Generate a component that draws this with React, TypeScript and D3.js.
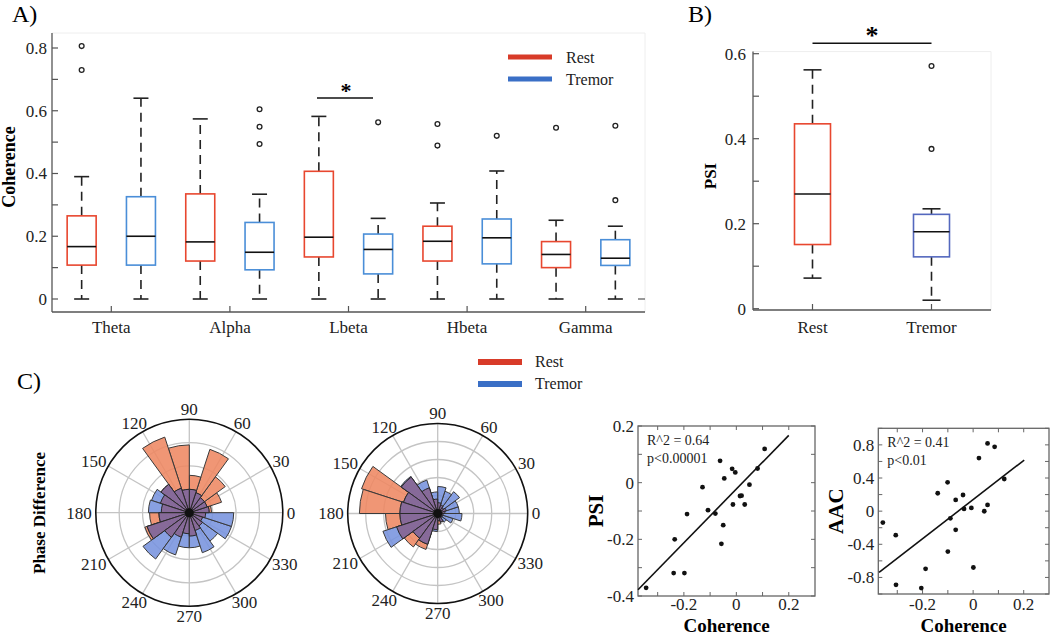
import React from "react";
import * as d3 from "d3";

// ---------- Panel A data ----------
const bands = ["Theta", "Alpha", "Lbeta", "Hbeta", "Gamma"];
const restLow = [0, 0, 0, 0, 0];
const restQ1 = [0.108, 0.121, 0.134, 0.121, 0.1];
const restMed = [0.167, 0.182, 0.197, 0.184, 0.142];
const restQ3 = [0.265, 0.335, 0.407, 0.232, 0.183];
const restHigh = [0.39, 0.574, 0.582, 0.306, 0.251];
const restOut = [[0.806, 0.73], [], [], [0.558, 0.489], [0.546]];
const tremLow = [0, 0, 0, 0, 0];
const tremQ1 = [0.108, 0.093, 0.08, 0.112, 0.107];
const tremMed = [0.2, 0.149, 0.158, 0.195, 0.13];
const tremQ3 = [0.326, 0.244, 0.207, 0.255, 0.189];
const tremHigh = [0.64, 0.334, 0.257, 0.408, 0.232];
const tremOut = [[], [0.605, 0.549, 0.494], [0.563], [0.52], [0.552, 0.315]];
const aTicks = [0, 0.1, 0.2, 0.3, 0.4, 0.5, 0.6, 0.7, 0.8];
const aLabels = [0, 0.2, 0.4, 0.6, 0.8];

// ---------- Panel B data ----------
const psiGroups = ["Rest", "Tremor"];
const psiLow = [0.072, 0.02];
const psiQ1 = [0.151, 0.122];
const psiMed = [0.27, 0.181];
const psiQ3 = [0.435, 0.222];
const psiHigh = [0.562, 0.235];
const psiOut = [[], [0.571, 0.376]];
const bTicks = [0, 0.1, 0.2, 0.3, 0.4, 0.5, 0.6];
const bLabels = [0, 0.2, 0.4, 0.6];

// ---------- Panel C rose data (18° bins from 0°) ----------
const binStarts = d3.range(0, 360, 18);
const angleTicks = [0, 30, 60, 90, 120, 150, 180, 210, 240, 270, 300, 330];
const rose1Rest = [0.95, 1.45, 1.9, 2.85, 1.6, 2.9, 3.4, 1.5, 1.3, 1.2, 1.7, 2.0, 1.3, 1.1, 0.9, 1.0, 0.8, 0.7, 0.6, 0.7];
const rose1Trem = [0.85, 0.8, 0.8, 0.9, 1.0, 1.0, 1.1, 1.5, 1.7, 1.75, 1.3, 1.9, 2.45, 1.9, 1.5, 1.5, 1.8, 1.5, 1.9, 1.9];
const rose2Rest = [0.4, 0.5, 0.4, 0.5, 0.6, 0.8, 1.5, 2.5, 4.45, 4.35, 2.9, 2.4, 2.3, 2.1, 0.9, 0.6, 0.5, 0.3, 0.3, 0.3];
const rose2Trem = [1.2, 1.2, 1.5, 1.3, 1.5, 1.2, 1.95, 2.55, 2.0, 2.1, 2.1, 3.2, 1.7, 1.8, 1.0, 0.4, 0.5, 0.6, 0.9, 1.35];

// ---------- Scatter data ----------
const sc1Coh = [0.108, -0.062, -0.016, -0.004, 0.081, -0.046, -0.129, 0.05, 0.014, 0.02, -0.188, -0.108, -0.08, -0.013, 0.032, -0.05, -0.057, -0.235, -0.239, -0.198, -0.344];
const sc1Psi = [0.119, 0.077, 0.049, 0.036, 0.05, 0.015, -0.016, -0.007, -0.047, -0.046, -0.111, -0.097, -0.109, -0.077, -0.077, -0.15, -0.216, -0.2, -0.319, -0.319, -0.371];
const sc2Coh = [0.057, 0.085, 0.023, 0.123, -0.101, -0.14, -0.04, -0.069, -0.036, -0.007, 0.057, 0.044, -0.09, -0.357, -0.069, -0.306, -0.1, -0.188, 0.001, -0.305, -0.205];
const sc2Aac = [0.818, 0.777, 0.641, 0.388, 0.348, 0.216, 0.195, 0.135, 0.027, 0.039, 0.075, -0.001, -0.086, -0.138, -0.226, -0.29, -0.488, -0.696, -0.68, -0.889, -0.929];
const fit1X = [-0.375, 0.2];
const fit1Y = [-0.378, 0.167];
const fit2X = [-0.372, 0.202];
const fit2Y = [-0.74, 0.617];
const scXTicks = [-0.3, -0.2, -0.1, 0, 0.1, 0.2];
const scXLabels = [-0.2, 0, 0.2];
const sc1YTicks = [-0.4, -0.3, -0.2, -0.1, 0, 0.1, 0.2];
const sc1YLabels = [-0.4, -0.2, 0, 0.2];
const sc2YTicks = [-1, -0.8, -0.6, -0.4, -0.2, 0, 0.2, 0.4, 0.6, 0.8, 1];
const sc2YLabels = [-0.8, -0.4, 0, 0.4, 0.8];

const SERIF = "'Liberation Serif', 'Times New Roman', serif";
const REST_BOX = "#e8472f";
const TREM_BOX = "#4a8ed8";
const TREM_BOX_B = "#5468be";
const LEG_RED = "#d83b29";
const LEG_BLUE = "#3a6fc6";
const AXIS = "#555";
const ROSE_REST = "#ee8762";
const ROSE_TREM = "#7893de";
const ROSE_BOTH = "#876694";

const fmt = (v: number) => (v === 0 ? "0" : (v < 0 ? "-" : "") + String(Math.abs(v)));

function Box({ cx, lo, q1, med, q3, hi, outs, y, color, w, capW }: any) {
  return (
    <g>
      <line x1={cx} x2={cx} y1={y(q3)} y2={y(hi)} stroke="#222" strokeWidth={1.6} strokeDasharray="9,6" />
      <line x1={cx} x2={cx} y1={y(q1)} y2={y(lo)} stroke="#222" strokeWidth={1.6} strokeDasharray="9,6" />
      <line x1={cx - capW / 2} x2={cx + capW / 2} y1={y(hi)} y2={y(hi)} stroke="#222" strokeWidth={1.6} />
      <line x1={cx - capW / 2} x2={cx + capW / 2} y1={y(lo)} y2={y(lo)} stroke="#222" strokeWidth={1.6} />
      <rect x={cx - w / 2} y={y(q3)} width={w} height={y(q1) - y(q3)} fill="none" stroke={color} strokeWidth={1.6} />
      <line x1={cx - w / 2} x2={cx + w / 2} y1={y(med)} y2={y(med)} stroke="#111" strokeWidth={1.6} />
      {outs.map((o: number, i: number) => (
        <circle key={i} cx={cx} cy={y(o)} r={2.4} fill="none" stroke="#222" strokeWidth={1.3} />
      ))}
    </g>
  );
}

function PanelA() {
  const x = d3.scaleLinear().domain([0.5, 10.5]).range([52, 645]);
  const y = d3.scaleLinear().domain([0, 0.8]).range([299, 48]);
  const top = 33, bottom = 312;
  return (
    <g>
      <text x={12} y={22} fontSize={24} fontFamily={SERIF}>A)</text>
      <line x1={x(0.5)} x2={x(10.5)} y1={top} y2={top} stroke="#eee" />
      <line x1={x(10.5)} x2={x(10.5)} y1={top} y2={bottom} stroke="#eee" />
      <line x1={x(10.5) - 7} x2={x(10.5)} y1={y(0)} y2={y(0)} stroke={AXIS} strokeWidth={1.2} />
      <line x1={x(0.5)} x2={x(0.5)} y1={top} y2={bottom} stroke={AXIS} strokeWidth={1.3} />
      <line x1={x(0.5)} x2={x(10.5)} y1={bottom} y2={bottom} stroke={AXIS} strokeWidth={1.3} />
      {aTicks.map((t) => (
        <line key={t} x1={x(0.5)} x2={x(0.5) + 6} y1={y(t)} y2={y(t)} stroke={AXIS} strokeWidth={1.2} />
      ))}
      {aLabels.map((t) => (
        <text key={t} x={x(0.5) - 5} y={y(t)} dy="0.35em" textAnchor="end" fontSize={17} fontFamily={SERIF} fill="#222">{fmt(t)}</text>
      ))}
      {bands.map((b, i) => (
        <g key={b}>
          <line x1={x(2 * i + 1.5)} x2={x(2 * i + 1.5)} y1={bottom} y2={bottom - 6} stroke={AXIS} strokeWidth={1.2} />
          <text x={x(2 * i + 1.5)} y={333} textAnchor="middle" fontSize={17} fontFamily={SERIF} fill="#222">{b}</text>
          <Box cx={x(2 * i + 1)} lo={restLow[i]} q1={restQ1[i]} med={restMed[i]} q3={restQ3[i]} hi={restHigh[i]} outs={restOut[i]} y={y} color={REST_BOX} w={29} capW={15} />
          <Box cx={x(2 * i + 2)} lo={tremLow[i]} q1={tremQ1[i]} med={tremMed[i]} q3={tremQ3[i]} hi={tremHigh[i]} outs={tremOut[i]} y={y} color={TREM_BOX} w={29} capW={15} />
        </g>
      ))}
      <text transform={`translate(15,167) rotate(-90)`} textAnchor="middle" fontSize={18} fontWeight="bold" fontFamily={SERIF}>Coherence</text>
      <line x1={317} x2={373} y1={98} y2={98} stroke="#111" strokeWidth={1.6} />
      <text x={346} y={98} textAnchor="middle" fontSize={22} fontWeight="bold" fontFamily={SERIF}>*</text>
      <line x1={508} x2={552} y1={57} y2={57} stroke={LEG_RED} strokeWidth={5} />
      <line x1={508} x2={552} y1={79} y2={79} stroke={LEG_BLUE} strokeWidth={5} />
      <text x={566} y={63} fontSize={16} fontFamily={SERIF} fill="#222">Rest</text>
      <text x={566} y={85} fontSize={16} fontFamily={SERIF} fill="#222">Tremor</text>
    </g>
  );
}

function PanelB() {
  const x = d3.scaleLinear().domain([0.5, 2.5]).range([753, 991]);
  const y = d3.scaleLinear().domain([0, 0.6]).range([308.7, 53.7]);
  const top = y(0.605), bottom = 310;
  return (
    <g>
      <text x={688} y={22} fontSize={24} fontFamily={SERIF}>B)</text>
      <line x1={x(0.5)} x2={x(2.5)} y1={top} y2={top} stroke="#eee" />
      <line x1={x(2.5)} x2={x(2.5)} y1={top} y2={bottom} stroke="#eee" />
      <line x1={x(0.5)} x2={x(0.5)} y1={top} y2={bottom} stroke={AXIS} strokeWidth={1.3} />
      <line x1={x(0.5)} x2={x(2.5)} y1={bottom} y2={bottom} stroke={AXIS} strokeWidth={1.3} />
      {bTicks.map((t) => (
        <line key={t} x1={x(0.5)} x2={x(0.5) + 6} y1={y(t)} y2={y(t)} stroke={AXIS} strokeWidth={1.2} />
      ))}
      {bLabels.map((t) => (
        <text key={t} x={x(0.5) - 7} y={y(t)} dy="0.35em" textAnchor="end" fontSize={17} fontFamily={SERIF} fill="#222">{fmt(t)}</text>
      ))}
      {psiGroups.map((g, i) => (
        <g key={g}>
          <line x1={x(i + 1)} x2={x(i + 1)} y1={bottom} y2={bottom - 6} stroke={AXIS} strokeWidth={1.2} />
          <text x={x(i + 1)} y={333} textAnchor="middle" fontSize={17} fontFamily={SERIF} fill="#222">{g}</text>
          <Box cx={x(i + 1)} lo={psiLow[i]} q1={psiQ1[i]} med={psiMed[i]} q3={psiQ3[i]} hi={psiHigh[i]} outs={psiOut[i]} y={y} color={i === 0 ? REST_BOX : TREM_BOX_B} w={36} capW={18} />
        </g>
      ))}
      <text transform={`translate(716,176) rotate(-90)`} textAnchor="middle" fontSize={17} fontWeight="bold" fontFamily={SERIF}>PSI</text>
      <line x1={x(1)} x2={x(2)} y1={43.3} y2={43.3} stroke="#111" strokeWidth={1.6} />
      <text x={(x(1) + x(2)) / 2} y={44} textAnchor="middle" fontSize={26} fontWeight="bold" fontFamily={SERIF}>*</text>
    </g>
  );
}

function Rose({ cx, cy, R, maxV, rest, trem }: any) {
  const r = d3.scaleLinear().domain([0, maxV]).range([0, R]);
  const arc = d3.arc();
  const rad = (deg: number) => (deg * Math.PI) / 180;
  const toD3 = (deg: number) => Math.PI / 2 - rad(deg);
  const rings = d3.range(1, maxV);
  const bar = (v: number, i: number) =>
    arc({ innerRadius: 0, outerRadius: r(v), startAngle: toD3(binStarts[i] + 18), endAngle: toD3(binStarts[i]) } as any) as string;
  return (
    <g>
      {rings.map((k) => (
        <circle key={k} cx={cx} cy={cy} r={r(k)} fill="none" stroke="#c4c4c4" strokeWidth={1.3} />
      ))}
      {angleTicks.map((a) => (
        <line key={a} x1={cx} y1={cy} x2={cx + R * Math.cos(rad(a))} y2={cy - R * Math.sin(rad(a))} stroke="#c4c4c4" strokeWidth={1.3} />
      ))}
      <g transform={`translate(${cx},${cy})`}>
        {rest.map((v: number, i: number) => (
          <path key={"r" + i} d={bar(v, i)} fill={ROSE_REST} fillOpacity={0.88} stroke="#3a3a3a" strokeWidth={1} />
        ))}
        {trem.map((v: number, i: number) => (
          <path key={"t" + i} d={bar(v, i)} fill={ROSE_TREM} fillOpacity={0.88} stroke="#3a3a3a" strokeWidth={1} />
        ))}
        {rest.map((v: number, i: number) => (
          <path key={"b" + i} d={bar(Math.min(v, trem[i]), i)} fill={ROSE_BOTH} fillOpacity={0.92} stroke="#2a2a2a" strokeWidth={1} />
        ))}
        <circle r={4.5} fill="#111" />
      </g>
      <circle cx={cx} cy={cy} r={R} fill="none" stroke="#111" strokeWidth={1.6} />
      {angleTicks.map((a) => {
        const c = Math.cos(rad(a)), s = Math.sin(rad(a));
        const w = String(a).length * 0.5 * 17;
        const px = cx + (R + 4) * c + (w / 2) * c;
        const py = cy - (R + 4) * s - 6 * s;
        return (
          <text key={a} x={px} y={py} dy="0.35em" textAnchor="middle" fontSize={17} fontFamily={SERIF} fill="#222">{a}</text>
        );
      })}
    </g>
  );
}

function Scatter({ left, right, top, bottom, xDom, yDom, yTicks, yLabels, xs, ys, fx, fy, r2, p, ylab }: any) {
  const x = d3.scaleLinear().domain(xDom).range([left, right]);
  const y = d3.scaleLinear().domain(yDom).range([bottom, top]);
  const line = d3.line<number>().x((d) => x(d)).y((_, i) => y(fy[i]));
  return (
    <g>
      <rect x={left} y={top} width={right - left} height={bottom - top} fill="none" stroke="#666" strokeWidth={1.3} />
      {scXTicks.map((t) => (
        <g key={t}>
          <line x1={x(t)} x2={x(t)} y1={bottom} y2={bottom - 4} stroke="#666" />
          <line x1={x(t)} x2={x(t)} y1={top} y2={top + 4} stroke="#666" />
        </g>
      ))}
      {yTicks.map((t: number) => (
        <g key={t}>
          <line x1={left} x2={left + 4} y1={y(t)} y2={y(t)} stroke="#666" />
          <line x1={right} x2={right - 4} y1={y(t)} y2={y(t)} stroke="#666" />
        </g>
      ))}
      {scXLabels.map((t) => (
        <text key={t} x={x(t)} y={610} textAnchor="middle" fontSize={17} fontFamily={SERIF} fill="#222">{fmt(t)}</text>
      ))}
      {yLabels.map((t: number) => (
        <text key={t} x={left - 4} y={y(t)} dy="0.35em" textAnchor="end" fontSize={17} fontFamily={SERIF} fill="#222">{fmt(t)}</text>
      ))}
      <path d={line(fx) as string} fill="none" stroke="#111" strokeWidth={1.6} />
      {xs.map((v: number, i: number) => (
        <circle key={i} cx={x(v)} cy={y(ys[i])} r={2.4} fill="#111" />
      ))}
      <text x={left + 9} y={top + 19} fontSize={14} fontFamily={SERIF} fill="#222">{r2}</text>
      <text x={left + 9} y={top + 37} fontSize={14} fontFamily={SERIF} fill="#222">{p}</text>
      <text transform={`translate(${left - 35},${(top + bottom) / 2}) rotate(-90)`} textAnchor="middle" fontSize={21} fontWeight="bold" fontFamily={SERIF}>{ylab}</text>
      <text x={(left + right) / 2} y={632} textAnchor="middle" fontSize={19} fontWeight="bold" fontFamily={SERIF}>Coherence</text>
    </g>
  );
}

function PanelC() {
  return (
    <g>
      <text x={17} y={389} fontSize={24} fontFamily={SERIF}>C)</text>
      <line x1={478} x2={522} y1={362} y2={362} stroke={LEG_RED} strokeWidth={6} />
      <line x1={478} x2={522} y1={384} y2={384} stroke={LEG_BLUE} strokeWidth={6} />
      <text x={535} y={367} fontSize={16} fontFamily={SERIF} fill="#222">Rest</text>
      <text x={535} y={389} fontSize={16} fontFamily={SERIF} fill="#222">Tremor</text>
      <text transform={`translate(45,513) rotate(-90)`} textAnchor="middle" fontSize={17} fontWeight="bold" fontFamily={SERIF}>Phase Difference</text>
      <Rose cx={189.3} cy={512.7} R={93.5} maxV={4} rest={rose1Rest} trem={rose1Trem} />
      <Rose cx={437.7} cy={513.5} R={90} maxV={5} rest={rose2Rest} trem={rose2Trem} />
      <Scatter left={638} right={815} top={426} bottom={596} xDom={[-0.375, 0.3]} yDom={[-0.4, 0.2]}
        yTicks={sc1YTicks} yLabels={sc1YLabels} xs={sc1Coh} ys={sc1Psi} fx={fit1X} fy={fit1Y}
        r2="R^2 = 0.64" p="p<0.00001" ylab="PSI" />
      <Scatter left={878.3} right={1049} top={428.3} bottom={594} xDom={[-0.375, 0.3]} yDom={[-1, 1]}
        yTicks={sc2YTicks} yLabels={sc2YLabels} xs={sc2Coh} ys={sc2Aac} fx={fit2X} fy={fit2Y}
        r2="R^2 = 0.41" p="p<0.01" ylab="AAC" />
    </g>
  );
}

export default function App() {
  return (
    <svg width={1050} height={637} style={{ position: "absolute", left: 0, top: 0, background: "#fff" }} fontFamily={SERIF}>
      <rect width={1050} height={637} fill="#fff" />
      <PanelA />
      <PanelB />
      <PanelC />
    </svg>
  );
}
